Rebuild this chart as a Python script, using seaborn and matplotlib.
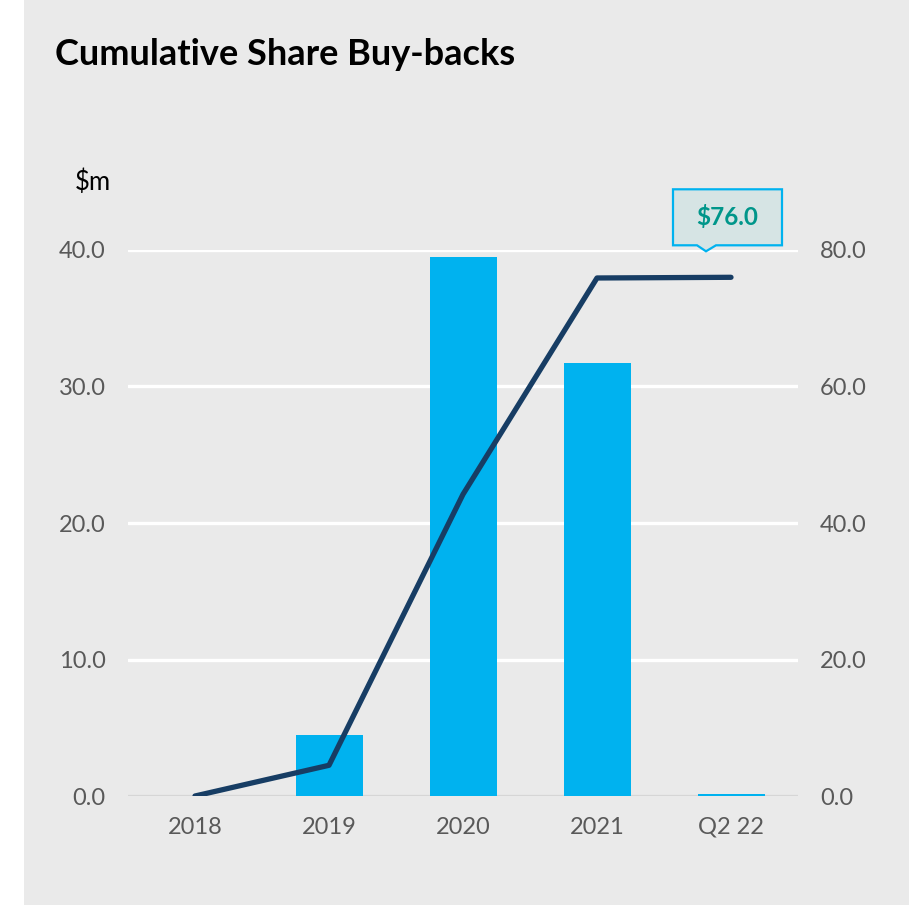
import numpy as np
import pandas as pd
import matplotlib
matplotlib.use("Agg")
import matplotlib.pyplot as plt
import matplotlib.transforms as mtransforms
from matplotlib.patches import Polygon, Rectangle
import seaborn as sns

# Data ($m)
periods = ["2018", "2019", "2020", "2021", "Q2 22"]
annual_buybacks = [0.0, 4.5, 39.5, 31.7, 0.15]
cumulative_buybacks = [0.0, 4.5, 44.2, 75.9, 76.0]
left_ticks = [0, 10, 20, 30, 40]
right_ticks = [0, 20, 40, 60, 80]
callout_label = "$76.0"

BAR_COLOR = "#00B2EF"
LINE_COLOR = "#173D64"
PANEL = "#EAEAEA"
TICK_COLOR = "#595959"

sns.set_theme(style="white")
plt.rcParams["font.family"] = ["Lato", "DejaVu Sans"]

fig = plt.figure(figsize=(9.15, 9.05), dpi=100, facecolor="white")
fig.patches.append(Rectangle((24 / 915, 0), 885 / 915, 1, transform=fig.transFigure,
                             facecolor=PANEL, edgecolor="none", zorder=-10))

ax = fig.add_axes([128 / 915, 1 - 796 / 905, 670 / 915, 546 / 905])
ax.set_facecolor("none")

df = pd.DataFrame({"period": periods, "annual": annual_buybacks,
                   "cumulative": cumulative_buybacks})

sns.barplot(data=df, x="period", y="annual", ax=ax, color=BAR_COLOR,
            width=0.5, saturation=1, linewidth=0, zorder=3)
ax.set_ylim(0, 40)
ax.set_xlim(-0.5, 4.5)
ax.set_yticks(left_ticks)
ax.set_yticklabels([f"{v:.1f}" for v in left_ticks])
ax.set_xlabel("")
ax.set_ylabel("")
for y in left_ticks[1:]:
    ax.axhline(y, color="white", lw=2.4, zorder=1)
ax.axhline(0, color="#D6D6D6", lw=1.6, zorder=2)
for s in ax.spines.values():
    s.set_visible(False)
ax.tick_params(axis="both", length=0, labelsize=17, labelcolor=TICK_COLOR)
ax.tick_params(axis="y", pad=16)
ax.tick_params(axis="x", pad=15)

ax2 = ax.twinx()
ax2.set_facecolor("none")
sns.lineplot(data=df, x="period", y="cumulative", ax=ax2, color=LINE_COLOR,
             lw=3.8, sort=False, zorder=5)
ax2.lines[0].set_solid_capstyle("round")
ax2.set_ylim(0, 80)
ax2.set_yticks(right_ticks)
ax2.set_yticklabels([f"{v:.1f}" for v in right_ticks])
ax2.set_ylabel("")
for s in ax2.spines.values():
    s.set_visible(False)
ax2.tick_params(axis="y", length=0, labelsize=17, labelcolor=TICK_COLOR, pad=16)

# Callout above the last point, vertices in inches relative to the point
anchor = mtransforms.ScaledTranslation(4, cumulative_buybacks[-1], ax2.transData)
trans = fig.dpi_scale_trans + anchor
px = 1 / 100
verts = np.array([(-58, 32), (-34, 32), (-25, 26), (-15, 32), (51, 32),
                  (51, 88), (-58, 88)]) * px
ax2.add_patch(Polygon(verts, closed=True, transform=trans, facecolor="#D6E4E4",
                      edgecolor="#00B2EF", lw=1.6, clip_on=False, zorder=6))
ax2.text(-3.5 * px, 60 * px, callout_label, transform=trans, ha="center", va="center",
         fontsize=17.5, fontweight="bold", color="#00968A", zorder=7, clip_on=False)

fig.text(55 / 915, 1 - 65 / 905, "Cumulative Share Buy-backs", fontsize=26,
         fontweight="bold", color="black", va="baseline", ha="left")
fig.text(93 / 915, 1 - 182 / 905, "$m", fontsize=18.5, color="black",
         va="center", ha="center")

fig.savefig("out.png", dpi=100, facecolor=fig.get_facecolor())
